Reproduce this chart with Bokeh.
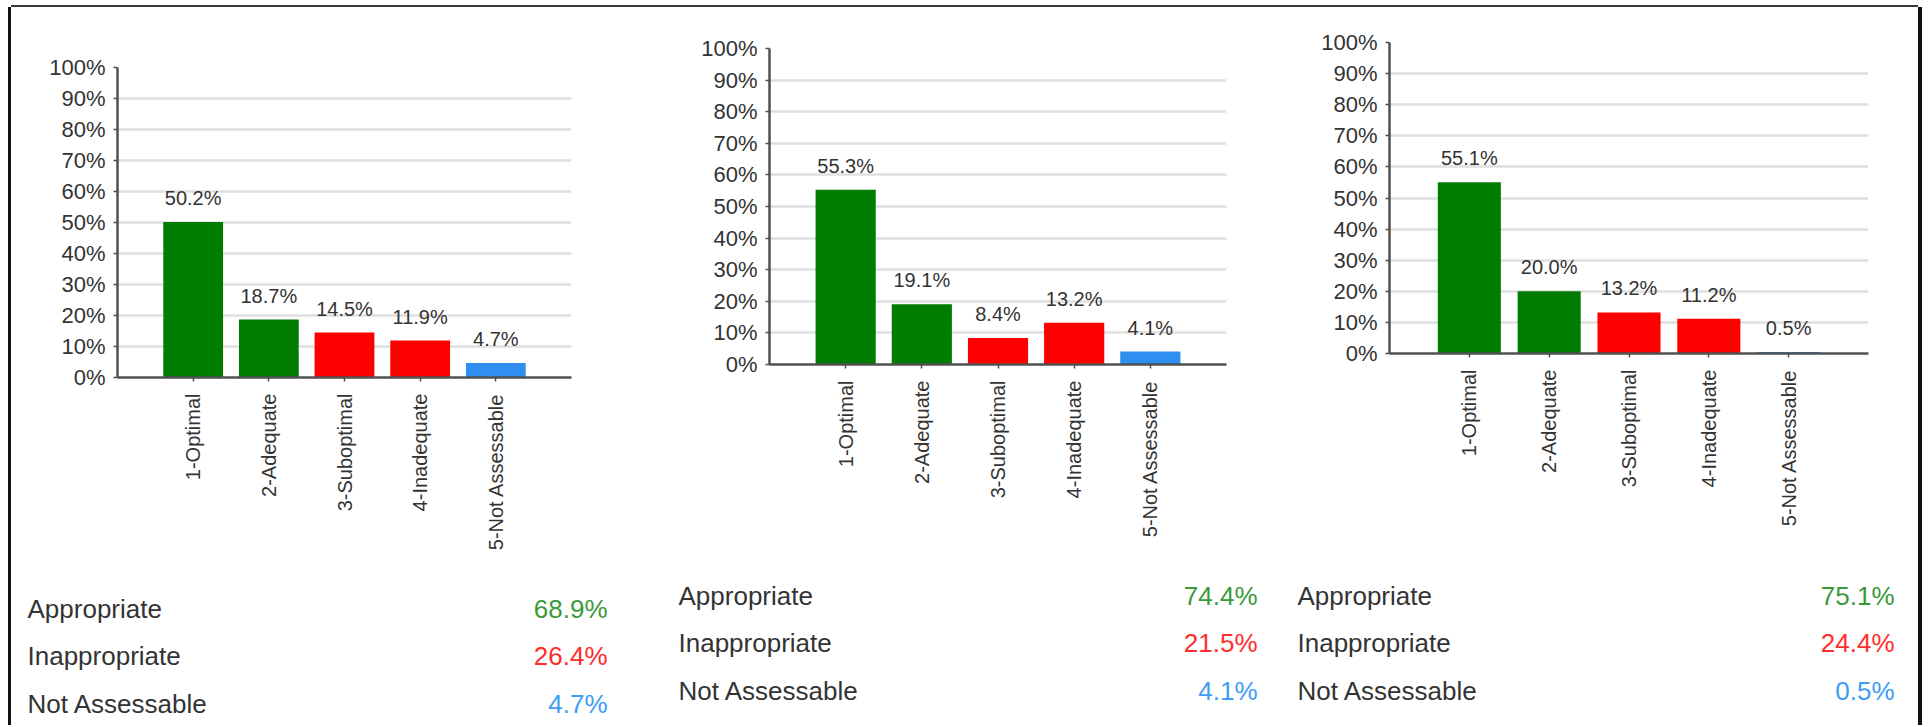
import math
from bokeh.plotting import figure
from bokeh.layouts import row, column
from bokeh.models import (FactorRange, Range1d, FixedTicker, PrintfTickFormatter,
                          ColumnDataSource)
from bokeh.core.properties import value
from bokeh.embed import file_html
from bokeh.resources import INLINE

# ---------------- data ----------------
categories = ["1-Optimal", "2-Adequate", "3-Suboptimal", "4-Inadequate", "5-Not Assessable"]
chart1_values = [50.2, 18.7, 14.5, 11.9, 4.7]
chart2_values = [55.3, 19.1, 8.4, 13.2, 4.1]
chart3_values = [55.1, 20.0, 13.2, 11.2, 0.5]

stat_labels = ["Appropriate", "Inappropriate", "Not Assessable"]
chart1_stats = [68.9, 26.4, 4.7]
chart2_stats = [74.4, 21.5, 4.1]
chart3_stats = [75.1, 24.4, 0.5]

y_ticks = [0, 10, 20, 30, 40, 50, 60, 70, 80, 90, 100]

# ---------------- styles / layout ----------------
bar_colors = ["#007d00", "#007d00", "#ff0000", "#ff0000", "#2f8ff0"]
stat_colors = ["#3a9a3a", "#ff2d2d", "#3d9cf5"]
FONT = "Liberation Sans"
TXT = "#333333"
ORIGIN_X, ORIGIN_Y = 11, 7   # page offset of the root (margins)
CHART_H = 570
STATS_H = 148
STATS_TOP = ORIGIN_Y + CHART_H   # page y where the summary panel starts

# page-space layout of each panel
layout_cfg = [
    dict(x0=11,   w=637, left=106, right=77, top=60, fh=310,
         lab_x=27,   val_x=607,  row_y=[608, 655, 703]),
    dict(x0=648,  w=632, left=121, right=54, top=41, fh=316,
         lab_x=678,  val_x=1257, row_y=[595, 642, 690]),
    dict(x0=1280, w=638, left=109, right=50, top=35, fh=311,
         lab_x=1297, val_x=1894, row_y=[595, 642, 690]),
]


def bar_chart(vals, cfg):
    bottom = CHART_H - cfg["top"] - cfg["fh"]
    p = figure(width=cfg["w"], height=CHART_H,
               x_range=FactorRange(factors=categories, range_padding=0.5,
                                   range_padding_units="absolute"),
               y_range=Range1d(0, 100),
               output_backend="svg", toolbar_location=None,
               min_border_left=cfg["left"], min_border_right=cfg["right"],
               min_border_top=cfg["top"], min_border_bottom=bottom)
    src = ColumnDataSource(dict(cat=categories, val=vals, color=bar_colors,
                                lab=[f"{v:.1f}%" for v in vals]))
    p.vbar(x="cat", top="val", width=0.79, fill_color="color", line_color=None, source=src)
    p.text(x="cat", y="val", text="lab", source=src, text_align="center",
           text_baseline="alphabetic", y_offset=-24,
           text_font=value(FONT), text_font_size="20px", text_color="#333333")
    p.outline_line_color = None
    p.background_fill_color = "white"
    p.border_fill_color = "white"
    p.xgrid.visible = False
    p.ygrid.grid_line_color = "#e0e0e0"
    p.ygrid.grid_line_width = 2.5

    p.yaxis.ticker = FixedTicker(ticks=y_ticks)
    p.yaxis.formatter = PrintfTickFormatter(format="%d%%")
    p.yaxis.minor_tick_line_color = None
    p.yaxis.major_tick_out = 4
    p.yaxis.major_tick_in = 0
    p.yaxis.major_label_standoff = 8

    p.xaxis.major_label_orientation = math.pi / 2
    p.xaxis.major_tick_out = 4
    p.xaxis.major_tick_in = 0
    p.xaxis.major_label_standoff = 12

    for ax in (p.xaxis, p.yaxis):
        ax.axis_line_color = "#505050"
        ax.axis_line_width = 2.5
        ax.major_tick_line_color = "#505050"
        ax.major_tick_line_width = 1.5
        ax.major_label_text_font = FONT
        ax.major_label_text_color = TXT
    p.yaxis.major_label_text_font_size = "22px"
    p.xaxis.major_label_text_font_size = "20px"
    return p


def stats_panel(stats, cfg):
    w = cfg["w"]
    s = figure(width=w, height=STATS_H, x_range=Range1d(0, w), y_range=Range1d(STATS_H, 0),
               output_backend="svg", toolbar_location=None,
               x_axis_location=None, y_axis_location=None, min_border=0)
    s.grid.visible = False
    s.outline_line_color = None
    s.background_fill_color = "white"
    s.border_fill_color = "white"
    n = len(stat_labels)
    src = ColumnDataSource(dict(
        lab=stat_labels,
        val=[f"{v:.1f}%" for v in stats],
        color=stat_colors,
        lx=[cfg["lab_x"] - cfg["x0"]] * n,
        vx=[cfg["val_x"] - cfg["x0"]] * n,
        y=[ry - STATS_TOP for ry in cfg["row_y"]]))
    s.text(x="lx", y="y", text="lab", source=src, text_align="left", text_baseline="middle",
           text_font=value(FONT), text_font_size="26px", text_color="#333333")
    s.text(x="vx", y="y", text="val", source=src, text_align="right", text_baseline="middle",
           text_font=value(FONT), text_font_size="26px", text_color="color")
    return s


cols = []
for vals, stats, cfg in zip([chart1_values, chart2_values, chart3_values],
                            [chart1_stats, chart2_stats, chart3_stats], layout_cfg):
    cols.append(column(bar_chart(vals, cfg), column(stats_panel(stats, cfg)), spacing=0))

root = row(*cols, spacing=0,
           styles={"margin-left": f"{ORIGIN_X}px", "margin-top": f"{ORIGIN_Y}px",
                   "box-shadow": "-3px 0 0 #111111, 4px 0 0 #111111, 0 -2px 0 #3a3a3a"})

open("out.html", "w").write(file_html(root, INLINE))
